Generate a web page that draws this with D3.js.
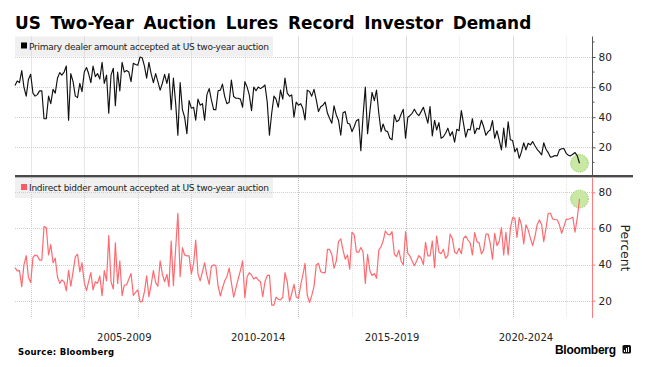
<!DOCTYPE html>
<html><head><meta charset="utf-8">
<script src="https://cdn.jsdelivr.net/npm/d3@7"></script>
<style>
html,body{margin:0;padding:0;background:#fff}
svg{display:block}
text{font-family:"DejaVu Sans",sans-serif;fill:#222}
</style></head><body><svg id="c" width="645" height="367"></svg>
<script>
const chartTitle = "US Two-Year Auction Lures Record Investor Demand";
const primaryLabel = "Primary dealer amount accepted at US two-year auction";
const indirectLabel = "Indirect bidder amount accepted at US two-year auction";
const periodLabels = ["2005-2009","2010-2014","2015-2019","2020-2024"];
const periodStartYears = [2005,2010,2015,2020];
const primaryTicks = [20,40,60,80];
const primaryMinorTicks = [10,30,50,70,90];
const indirectTicks = [20,40,60,80];
const gridYearsStrong = [2014,2018,2022];
const gridYearsMedium = [2004,2006,2008,2010];
const gridYearsFaint = [2012,2016,2020,2024];
const firstMonth = new Date(2003,5,1);

const primaryDealer = [
61,64,63,71,60,54,65,68.5,56,54,
55,57.5,57.5,39,39,54,49,58.5,56,66,
69.6,68,70,74,38,69,63.6,54,53,62.5,
57,70,73,69,63,74,67,69,65.4,76.5,
62.5,68,42.6,68,72.5,47.7,70,57.5,76.5,70,
71,70,63.6,75.8,75,74.5,80,79.5,74,66,
76.5,69,63,69,63.6,58,62.5,68.5,62.5,69,
45,66,49,28,63,45,40,29,51,46,
46.6,38,52,48,49,38,55,59,51.5,45,
45,57.6,58,62,53.7,49,50,64.7,53.7,52.6,
52.6,52,46.6,63.6,60,54.8,44.4,60,57.6,60,
59,60,61.4,50,28,42.6,54,52,46.6,58,
52,66,56,54,54.8,40,50,48,49,46,
38.2,58,57,54,58.5,51.5,43.7,47,48,50,
42.6,39.3,36,47.5,41.5,38,28,43,43.7,36,
35.5,30.4,33.8,37.7,38.6,17.8,41.5,60,29,43.7,
56.5,51,58,42.6,30.4,35.5,31,30.4,26,25,
41.5,37,38,42,45.3,26,40,41,42.6,45.3,
42.6,41,43.7,46.6,41.5,36,47,
27.6,38,31.5,36.4,26,27,29.3,32.7,27.6,30.4,
23.4,32,31,44.4,36,26.7,32,31.5,39,29,
32.7,32,38,33.8,28,30.4,31.5,37.7,26,31,
25,18.3,32.7,20,37,25,24.5,17,19.4,12.7,
17,23,18.3,22.7,21.6,23.8,21,18.7,17,15,
23,18.7,16.5,13.4,13.8,14.5,14.3,18.3,19,19.2,
16,14.7,14.3,15.4,16.5,14.3,9.4];

const indirectBidder = [
38.3,36.5,36.6,27.8,39.8,45,33,30,44,45.3,
44.8,42.5,42.5,61,60.4,45.3,51,41,43.5,33,
29.6,31.5,30.5,25.4,36.8,28,36,44.4,45.7,36,
41,30,25.6,30.5,35.5,26,30.5,29.6,33.7,22.8,
36.6,31,56,30.5,26.5,52,29.6,42,22.8,28.7,
28.7,32,35,23,24.6,26,19.5,19.5,25,33.7,
22.2,28.7,36.6,30,28,42,34.8,30.5,34.6,27.8,
53,28.3,49,68.4,33.3,49.4,45.3,44.8,44.8,34.8,
40.7,53.6,35,31,36,41,34,29,39,39.8,
39.4,28,22.6,27,31,33.3,38,30,22,27,
32,36.6,42,21.7,33.3,35.5,34.2,32,33,31.5,
30.5,22.2,30.5,33.9,34.2,17.6,17.6,22,20.8,20.4,
22,35.5,30.5,19.5,24,29,22.2,21.3,28.7,34,
40.7,23.2,19,22.8,27.8,39.8,40.7,36,35.5,35.5,
48.4,48.4,45.7,38,42,52.7,54.2,48,43,45.3,
37.4,57.9,56.4,47,46.8,49.4,46.8,29.6,45.7,36.6,
34,35,32.4,48,50,53,58.6,56.8,56.4,58.2,
45.7,44.4,48,42,39.8,58.2,46.2,44.8,42,39.4,
42,45,43.5,40,52.3,44.8,44.8,
53,38.3,55.8,47,46,48.4,43.5,45,56.8,54.5,
47,46,49,46,54.5,55.8,53.6,52,45.3,57.7,
52.7,52,45.9,48,56.8,56.8,51.8,43,57.3,50.5,
52.7,60.4,45.3,57.9,45.3,60,66,65.6,55,66,
62,51.4,62,59.2,54.5,50.5,55.5,62,64.7,62,
52.7,60,68.4,68.4,65.2,64.9,64.8,62,57.3,61,
65,65.2,65.5,66.2,57.9,66,76.3];

const svg = d3.select("#c");
const left = 15, axisX = 592.5, lastX = 579.5;
const monthOf = i => d3.timeMonth.offset(firstMonth, i);
const x = d3.scaleTime()
  .domain([firstMonth, monthOf(primaryDealer.length - 1)])
  .range([left, lastX]);
const year = y => new Date(y, 0, 1);

function panel(o) {
  const g = svg.append("g");
  const y = d3.scaleLinear().domain([20, 80]).range([o.y20, o.y80]);
  g.append("rect").attr("x", left).attr("y", o.top).attr("width", 258).attr("height", 20).attr("fill", "#f0f0f0");
  [[gridYearsStrong,"#bdbdbd"],[gridYearsMedium,"#cfcfcf"],[gridYearsFaint,"#e4e4e4"]].forEach(([ys,c]) => {
    g.selectAll(null).data(ys).join("line")
      .attr("x1", d => Math.round(x(year(d))) + .5).attr("x2", d => Math.round(x(year(d))) + .5)
      .attr("y1", o.top).attr("y2", o.bottom)
      .attr("stroke", c).attr("stroke-width", 1).attr("stroke-dasharray", "1,1");
  });
  g.selectAll(null).data(o.ticks).join("line")
    .attr("x1", left).attr("x2", axisX)
    .attr("y1", d => Math.round(y(d)) + .5).attr("y2", d => Math.round(y(d)) + .5)
    .attr("stroke", "#cfcfcf").attr("stroke-dasharray", "1,1");
  g.append("rect").attr("x", 21).attr("y", o.top + 6).attr("width", 6).attr("height", 6).attr("fill", o.keyColor);
  g.append("text").attr("x", 29).attr("y", o.top + 13).attr("font-size", 9).attr("textLength", 240).text(o.label);
  const n = o.values.length - 1;
  g.append("circle").attr("cx", x(monthOf(n))).attr("cy", y(o.values[n])).attr("r", 8.8)
    .attr("fill", "#c8e8a4").attr("stroke", "#86c84a").attr("stroke-width", 1).attr("stroke-dasharray", "1,1");
  g.append("path").datum(o.values)
    .attr("fill", "none").attr("stroke", o.color).attr("stroke-width", o.width).attr("stroke-linejoin", "round")
    .attr("d", d3.line().x((d, i) => x(monthOf(i))).y(d => y(d)));
  const ax = g.append("g").attr("transform", `translate(${axisX},0)`)
    .call(d3.axisRight(y).tickValues(o.ticks).tickSize(3).tickPadding(3).tickFormat(d3.format("d")));
  ax.select(".domain").remove();
  ax.selectAll("line").attr("stroke", o.axisColor);
  ax.selectAll("text").attr("font-size", 10.5).attr("font-family", '"DejaVu Sans",sans-serif').attr("fill", "#222");
  g.append("line").attr("x1", axisX).attr("x2", axisX).attr("y1", o.top).attr("y2", o.bottom).attr("stroke", o.axisColor);
  if (o.minor) g.selectAll(null).data(o.minor.filter(d => y(d) > o.top && y(d) < o.bottom)).join("line")
    .attr("x1", axisX).attr("x2", axisX + 2).attr("y1", d => y(d)).attr("y2", d => y(d)).attr("stroke", o.axisColor);
}

panel({values: primaryDealer, label: primaryLabel, color: "#111", keyColor: "#000", axisColor: "#555", width: 1.15,
  top: 36.5, bottom: 176, y20: 147.3, y80: 57, ticks: primaryTicks, minor: primaryMinorTicks});
panel({values: indirectBidder, label: indirectLabel, color: "#ff6a70", keyColor: "#ff5a60", axisColor: "#ff7b7b", width: 1.2,
  top: 178, bottom: 318, y20: 300.7, y80: 192.3, ticks: indirectTicks});

svg.append("rect").attr("x", left).attr("y", 175).attr("width", 618).attr("height", 2.4).attr("fill", "#4a4a4a");

svg.selectAll(null).data(periodLabels).join("text")
  .attr("x", (d, i) => x(new Date(periodStartYears[i] + 2, 6, 1)))
  .attr("y", 341).attr("text-anchor", "middle").attr("font-size", 10).text(d => d);

svg.append("text").attr("transform", "translate(15,29) scale(1,1.05)").attr("font-size", 16.9).attr("font-weight", 700)
  .style("word-spacing", "3.8px").style("fill", "#000").text(chartTitle);
svg.append("text").attr("transform", "translate(620.5,248) rotate(90)").attr("text-anchor", "middle")
  .attr("font-size", 12.5).text("Percent");
svg.append("text").attr("x", 18).attr("y", 355).attr("font-size", 8.5).attr("font-weight", 700)
  .attr("textLength", 96).style("fill", "#000").text("Source: Bloomberg");
svg.append("text").attr("x", 555).attr("y", 354).attr("font-size", 12).attr("font-weight", 700)
  .style("font-family", '"Liberation Sans",sans-serif').attr("textLength", 61).style("fill", "#000").text("Bloomberg");
svg.append("rect").attr("x", 622.5).attr("y", 345).attr("width", 8.5).attr("height", 8.5).attr("rx", 1.5).attr("fill", "#111");
svg.append("path").attr("d", "M624.5 352v-2M626.5 352v-4M628.5 352v-5").attr("stroke", "#fff").attr("stroke-width", 1);
</script></body></html>
